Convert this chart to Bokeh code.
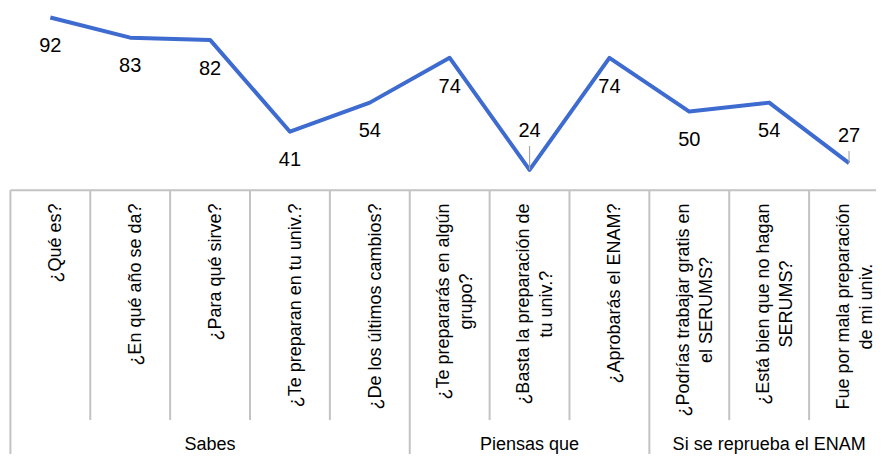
import math
from bokeh.plotting import figure
from bokeh.models import Range1d, ColumnDataSource
from bokeh.core.properties import value
from bokeh.embed import file_html
from bokeh.resources import INLINE

# ---------------- data ----------------
groups = ["Sabes", "Piensas que", "Si se reprueba el ENAM"]
group_sizes = [5, 3, 3]
questions = [
    "¿Qué es?",
    "¿En qué año se da?",
    "¿Para qué sirve?",
    "¿Te preparan en tu univ.?",
    "¿De los últimos cambios?",
    "¿Te prepararás en algún\ngrupo?",
    "¿Basta la preparación de\ntu univ.?",
    "¿Aprobarás el ENAM?",
    "¿Podrías trabajar gratis en\nel SERUMS?",
    "¿Está bien que no hagan\nSERUMS?",
    "Fue por mala preparación\nde mi univ.",
]
values = [92, 83, 82, 41, 54, 74, 24, 74, 50, 54, 27]

# ---------------- layout / style ----------------
FONT = "Liberation Sans"
W, H = 876, 454
CAT_PX = 79.87         # pixel width of a category column
LEFT_PX = 9.9          # first column edge from the frame's left
PX_PER_UNIT = 2.240    # vertical pixels per value unit
TOP_VAL = 99.59        # value at the top of the frame
LINE_COLOR = "#3D6BCF"
GRID_COLOR = "#C3C3C3"
LEADER_COLOR = "#A8A8A8"

TABLE_TOP = 189.7      # pixels from figure top
INNER_BOTTOM = 419.6
LABEL_TOP = 203
GROUP_MIDDLE = 443

n = len(values)
xs = [i + 0.5 for i in range(n)]

x0 = -LEFT_PX / CAT_PX
p = figure(
    width=W, height=H,
    x_range=Range1d(x0, x0 + W / CAT_PX),
    y_range=Range1d(TOP_VAL - H / PX_PER_UNIT, TOP_VAL),
    output_backend="svg", toolbar_location=None,
    x_axis_type=None, y_axis_type=None, min_border=0,
)
p.outline_line_color = None
p.background_fill_color = "white"
p.border_fill_color = "white"
p.extra_y_ranges = {"tbl": Range1d(H, 0)}

# ---------------- category table ----------------
bounds = [0]
for s in group_sizes:
    bounds.append(bounds[-1] + s)
inner = [i for i in range(1, n) if i not in bounds]

p.segment(x0=inner, y0=[TABLE_TOP] * len(inner), x1=inner, y1=[INNER_BOTTOM] * len(inner),
          y_range_name="tbl", line_color=GRID_COLOR, line_width=2)
p.segment(x0=bounds, y0=[TABLE_TOP] * len(bounds), x1=bounds, y1=[H + 10] * len(bounds),
          y_range_name="tbl", line_color=GRID_COLOR, line_width=2)
p.segment(x0=[0], y0=[TABLE_TOP], x1=[n], y1=[TABLE_TOP],
          y_range_name="tbl", line_color=GRID_COLOR, line_width=2)

p.text(x=xs, y=[LABEL_TOP] * n, text=questions, angle=math.pi / 2,
       text_align="center", anchor=value("right"), x_offset=5,
       y_range_name="tbl", text_font=value(FONT), text_font_size="18px",
       text_color="black", text_line_height=1.15)

gx = [(bounds[k] + bounds[k + 1]) / 2 for k in range(len(groups))]
p.text(x=gx, y=[GROUP_MIDDLE] * len(groups), text=groups,
       text_align="center", text_baseline="middle",
       y_range_name="tbl", text_font=value(FONT), text_font_size="18px",
       text_color="black")

# ---------------- line + labels ----------------
p.line(xs, values, line_color=LINE_COLOR, line_width=4, line_join="round")

offsets = [27.7] * n
offsets[6] = -39.9
offsets[10] = -28.2
src = ColumnDataSource(dict(x=xs, y=values, t=[str(v) for v in values], dy=offsets))
p.text(x="x", y="y", text="t", y_offset="dy", source=src,
       text_align="center", text_baseline="middle",
       text_font=value(FONT), text_font_size="20px", text_color="black")

lead_idx = [i for i in range(n) if offsets[i] < 0]
p.segment(x0=[xs[i] for i in lead_idx], y0=[values[i] for i in lead_idx],
          x1=[xs[i] for i in lead_idx],
          y1=[values[i] + (abs(offsets[i]) - 16) / PX_PER_UNIT for i in lead_idx],
          line_color=LEADER_COLOR, line_width=1.2)

open("out.html", "w").write(file_html(p, INLINE))
